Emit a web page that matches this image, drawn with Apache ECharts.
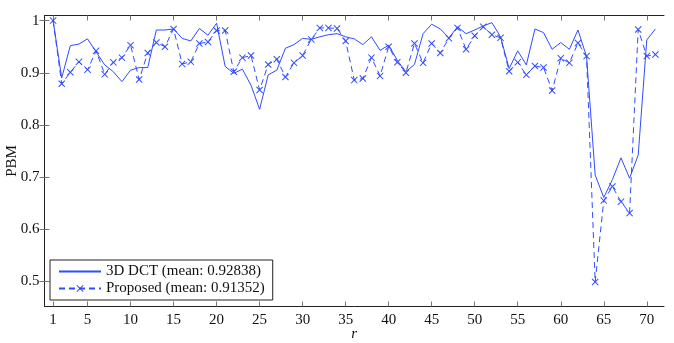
<!DOCTYPE html>
<html><head><meta charset="utf-8">
<script src="https://cdn.jsdelivr.net/npm/echarts@6/dist/echarts.min.js"></script>
<style>html,body{margin:0;padding:0;background:#fff}#c{width:674px;height:343px}</style>
</head><body><div id="c"></div>
<script>
const r = Array.from({length: 71}, (_, i) => i + 1);
const dct = [1.0,0.890,0.952,0.955,0.965,0.940,0.915,0.902,0.883,0.905,
  0.910,0.910,0.982,0.982,0.984,0.966,0.961,0.985,0.972,0.995,
  0.912,0.899,0.907,0.876,0.830,0.896,0.905,0.947,0.954,0.966,
  0.964,0.969,0.973,0.975,0.969,0.965,0.954,0.969,0.943,0.953,
  0.924,0.902,0.916,0.975,0.993,0.984,0.967,0.988,0.975,0.982,
  0.990,0.996,0.969,0.908,0.942,0.915,0.984,0.977,0.945,0.958,
  0.945,0.982,0.931,0.704,0.661,0.695,0.737,0.698,0.742,0.963,0.984];
const proposed = [1.0,0.879,0.901,0.921,0.906,0.942,0.897,0.920,0.929,0.953,
  0.887,0.938,0.958,0.950,0.984,0.917,0.921,0.956,0.959,0.981,
  0.981,0.902,0.929,0.933,0.867,0.916,0.926,0.892,0.919,0.933,
  0.964,0.986,0.986,0.985,0.961,0.886,0.889,0.929,0.894,0.950,
  0.920,0.900,0.956,0.919,0.956,0.938,0.966,0.986,0.945,0.971,
  0.988,0.973,0.967,0.903,0.920,0.896,0.913,0.910,0.866,0.928,
  0.919,0.957,0.932,0.499,0.655,0.682,0.653,0.631,0.983,0.932,0.935];
const xTicks = [1,5,10,15,20,25,30,35,40,45,50,55,60,65,70];
const yTicks = [0.5,0.6,0.7,0.8,0.9,1];
const seriesNames = ['3D DCT (mean: 0.92838)', 'Proposed (mean: 0.91352)'];

const BLUE = '#2f4cff';
const FONT = 'Liberation Serif';
const X_PATH = 'path://M0,1L1,0L5,4L9,0L10,1L6,5L10,9L9,10L5,6L1,10L0,9L4,5Z';
const axisLine = {show: true, lineStyle: {color: '#222', width: 1}};
function xAx(pos, labels) {
  return {type: 'value', position: pos, min: 0, max: 72,
    axisLine: axisLine, splitLine: {show: false},
    axisTick: {show: true, inside: true, length: 5, customValues: xTicks, lineStyle: {color: '#777'}},
    axisLabel: {show: labels, customValues: xTicks, color: '#111', fontFamily: FONT, fontSize: 15, margin: 6},
    name: labels ? 'r' : '', nameLocation: 'middle', nameGap: 20, nameMoveOverlap: false,
    nameTextStyle: {fontFamily: FONT, fontStyle: 'italic', fontSize: 15, color: '#111'}};
}
function yAx(pos, labels) {
  return {type: 'value', position: pos, min: 0.452, max: 1.0098,
    axisLine: axisLine, splitLine: {show: false},
    axisTick: {show: true, inside: true, length: 5, customValues: yTicks, lineStyle: {color: '#777'}},
    axisLabel: {show: labels, customValues: yTicks, color: '#111', fontFamily: FONT, fontSize: 15, margin: 5},
    name: labels ? 'PBM' : '', nameLocation: 'middle', nameGap: 25, nameRotate: 90, nameMoveOverlap: false,
    nameTextStyle: {fontFamily: FONT, fontSize: 15, color: '#111'}};
}
const chart = echarts.init(document.getElementById('c'), null, {renderer: 'canvas'});
chart.setOption({
  animation: false,
  backgroundColor: '#fff',
  grid: {left: 44.5, right: 10, top: 15.5, bottom: 36.5, containLabel: false, outerBoundsMode: 'none'},
  xAxis: [xAx('bottom', true), xAx('top', false)],
  yAxis: [yAx('left', true), yAx('right', false)],
  legend: {
    orient: 'vertical', left: 50, top: 260,
    padding: [4, 8, 4, 8], itemGap: 2, itemWidth: 42, itemHeight: 9,
    borderColor: '#222', borderWidth: 1, backgroundColor: '#fff',
    textStyle: {fontFamily: FONT, fontSize: 15, color: '#111'},
    data: [{name: seriesNames[0], itemStyle: {opacity: 0}}, {name: seriesNames[1]}]
  },
  series: [
    {name: seriesNames[0], type: 'line', data: r.map((x, i) => [x, dct[i]]),
      symbol: 'none', color: BLUE, lineStyle: {color: BLUE, width: 1}},
    {name: seriesNames[1], type: 'line', data: r.map((x, i) => [x, proposed[i]]),
      symbol: X_PATH, symbolSize: 7, color: BLUE, itemStyle: {color: BLUE},
      lineStyle: {color: BLUE, width: 1, type: [6, 4]}}
  ]
});
</script></body></html>
